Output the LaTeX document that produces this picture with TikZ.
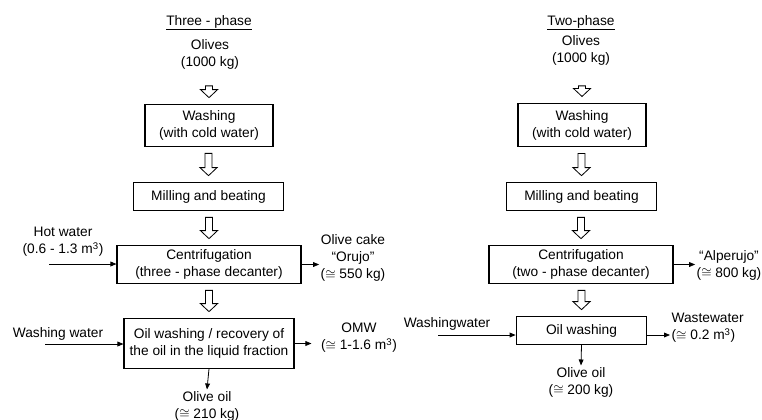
\documentclass[tikz,border=0pt]{standalone}
\usepackage{fontspec}
\setmainfont{Liberation Sans}
\usetikzlibrary{arrows.meta,calc}
\tikzset{
  box/.style={draw, line width=0.8pt, align=center, inner sep=0pt},
  lbl/.style={align=center, inner sep=1pt},
  flow/.style={-{Triangle[length=4.5pt,width=3.6pt]}, line width=0.6pt},
  hollow/.style={line width=0.6pt, to path={let \p1=(\tikztostart.south), \p2=(\tikztotarget.north) in
    (\x2-2.6pt,\y1-5pt) -- (\x2-2.6pt,\y2+11pt) -- (\x2-6.4pt,\y2+11pt) -- (\x2,\y2+5pt)
    -- (\x2+6.4pt,\y2+11pt) -- (\x2+2.6pt,\y2+11pt) -- (\x2+2.6pt,\y1-5pt) -- cycle}},
}
\begin{document}
\begin{tikzpicture}[x=0.75pt, y=-0.75pt, font=\fontsize{10.3}{12.8}\selectfont]
      \useasboundingbox (0,0) rectangle (762,419);
      % three-phase column
      \path
        (209,25) node[anchor=base] (title3) {\underline{Three - phase}}
        (210,54) node[lbl, inner ysep=7.5pt] (olives3) {Olives\\(1000 kg)}
        (209,125.5) node[box, minimum width=96pt, minimum height=31pt] (wash3) {Washing\\(with cold water)}
        (208.5,196.5) node[box, minimum width=112pt, minimum height=20.5pt] (mill3) {Milling and beating}
        (209,264.5) node[box, minimum width=138pt, minimum height=28pt] (cent3) {Centrifugation\\(three - phase decanter)}
        (209,343.5) node[box, minimum width=127.5pt, minimum height=37pt] (oil3) {Oil washing / recovery of\\the oil in the liquid fraction}
        (63,242) node[lbl] (hot3) {Hot water\\(0.6 - 1.3 m\textsuperscript{3})}
        (353,258) node[lbl] (cake3) {Olive cake\\“Orujo”\\(\(\cong\) 550 kg)}
        (58,334) node[lbl] (washw3) {Washing water}
        (359,338) node[lbl] (omw3) {OMW\\(\(\cong\) 1-1.6 m\textsuperscript{3})}
        (207,406) node[lbl] (olive3) {Olive oil\\(\(\cong\) 210 kg)};
      \coordinate (hotin3) at (49,264);
      \coordinate (washin3) at (45,344);
      % two-phase column
      \path
        (581,25) node[anchor=base] (title2) {\underline{Two-phase}}
        (581,50) node[lbl, inner ysep=10.5pt] (olives2) {Olives\\(1000 kg)}
        (582,125) node[box, minimum width=96pt, minimum height=32pt] (wash2) {Washing\\(with cold water)}
        (581.5,196.5) node[box, minimum width=112pt, minimum height=20.5pt] (mill2) {Milling and beating}
        (581,264.5) node[box, minimum width=138pt, minimum height=28pt] (cent2) {Centrifugation\\(two - phase decanter)}
        (581.5,330.5) node[box, minimum width=98pt, minimum height=20.5pt] (oil2) {Oil washing}
        (729,265) node[lbl] (alp2) {“Alperujo”\\(\(\cong\) 800 kg)}
        (447,324) node[lbl] (washw2) {Washingwater}
        (670,328) node[lbl, anchor=west, align=left] (waste2) {Wastewater\\(\(\cong\) 0.2 m\textsuperscript{3})}
        (581,382) node[lbl] (olive2) {Olive oil\\(\(\cong\) 200 kg)};
      \coordinate (washin2) at (438,335);
      \begin{scope}[hollow]
        \draw (olives3) to (wash3);
        \draw (wash3) to (mill3);
        \draw (mill3) to (cent3);
        \draw (cent3) to (oil3);
        \draw (olives2) to (wash2);
        \draw (wash2) to (mill2);
        \draw (mill2) to (cent2);
        \draw (cent2) to (oil2);
      \end{scope}
      \begin{scope}[flow]
        \draw (hotin3) -- (hotin3 -| cent3.west);
        \draw (cent3.east) -- (cent3.east -| cake3.west);
        \draw (washin3) -- (washin3 -| oil3.west);
        \draw[shorten >=6pt] (oil3.east) -- (oil3.east -| omw3.west);
        \draw (oil3.south) -- (olive3.north);
        \draw (cent2.east) -- (cent2.east -| alp2.west);
        \draw (washin2) -- (washin2 -| oil2.west);
        \draw (washin2 -| oil2.east) -- (washin2 -| waste2.west);
        \draw (oil2.south) -- (olive2.north);
      \end{scope}
    \end{tikzpicture}
\end{document}
